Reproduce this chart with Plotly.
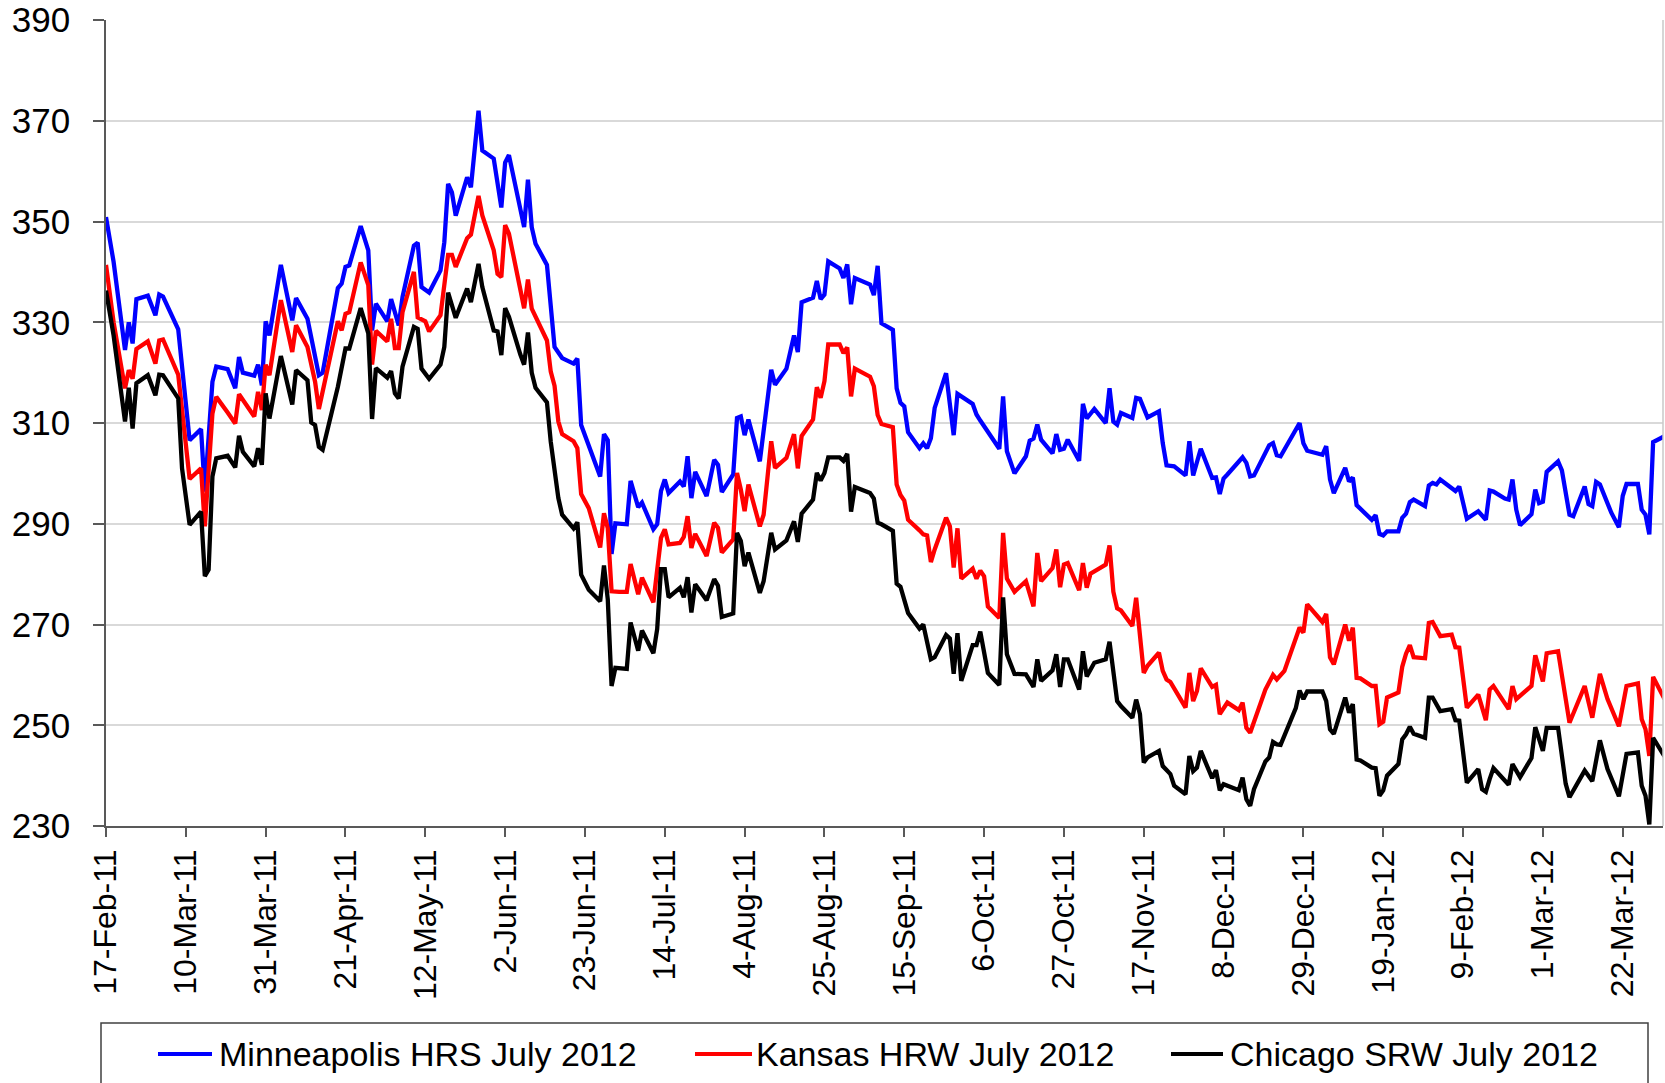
import pandas as pd
import plotly.graph_objects as go

# Wheat futures (July 2012 contracts), daily closes; x = days since 17-Feb-11
start = pd.Timestamp("2011-02-17")

mpls_days = [
    0, 2, 5, 6, 7, 8, 11, 13, 14, 15, 19, 22, 25, 26, 28, 29, 32, 34, 35, 36,
    39, 40, 41, 42, 43, 46, 49, 50, 53, 55, 56, 57, 61, 62, 63, 64, 67, 69, 70, 71,
    74, 75, 77, 78, 81, 82, 83, 85, 88, 89, 90, 91, 92, 95, 96, 98, 99, 102, 104, 105,
    106, 110, 111, 112, 113, 116, 117, 118, 120, 123, 124, 125, 130, 131, 132, 133, 134, 137, 138, 140,
    141, 144, 145, 146, 147, 148, 151, 152, 153, 154, 155, 158, 160, 161, 162, 165, 166, 167, 168, 169,
    172, 175, 176, 179, 181, 182, 183, 186, 187, 188, 189, 190, 193, 194, 195, 196, 197, 201, 202, 203,
    204, 207, 208, 209, 210, 211, 214, 215, 216, 217, 218, 221, 223, 224, 228, 229, 230, 232, 235, 236,
    237, 239, 242, 243, 244, 245, 246, 249, 250, 251, 252, 253, 256, 257, 258, 260, 263, 264, 265, 266,
    267, 270, 271, 272, 274, 277, 278, 279, 281, 284, 285, 286, 288, 291, 292, 293, 294, 295, 299, 300,
    301, 302, 306, 307, 308, 309, 314, 315, 316, 320, 321, 322, 323, 326, 327, 328, 329, 333, 334, 335,
    336, 337, 340, 341, 342, 343, 344, 347, 348, 349, 350, 351, 354, 355, 356, 358, 361, 363, 364, 365,
    368, 369, 370, 371, 372, 375, 376, 377, 378, 379, 382, 383, 385, 386, 389, 390, 391, 392, 393, 396,
    398, 399, 400, 403, 404, 405, 406, 407, 410,
]
mpls = [
    350.9, 342, 324.5, 330, 325.8, 334.6, 335.3, 331.4, 335.5, 335.1, 328.6, 306.6, 308.8, 296.4, 318.2, 321.2, 320.7, 316.9, 323.1, 320,
    319.4, 321.6, 317.5, 330.2, 327.4, 341.4, 330.4, 334.8, 330.7, 323.8, 319.5, 320, 336.8, 337.7, 341, 341.3, 349.1, 344.3, 328.4, 333.7,
    330.2, 334.6, 329.4, 335, 345.2, 345.8, 337, 335.9, 340.3, 345.9, 357.5, 355.8, 351.2, 358.8, 356.8, 372, 364.1, 362.5, 352.8, 361.7,
    363.2, 348.9, 358.3, 348.9, 345.6, 341.4, 332, 325.1, 322.9, 321.8, 322.8, 309.6, 299.4, 307.8, 306.6, 284, 290.1, 289.9, 298.5, 293.3,
    294.2, 288.9, 289.9, 296.5, 298.8, 296.1, 298.4, 297.4, 303.4, 295.1, 300.3, 295.5, 302.7, 301.7, 296.3, 299.8, 311, 311.3, 307.6, 310.7,
    302.4, 320.6, 317.6, 320.8, 327.4, 324.1, 334, 334.9, 338.2, 334.6, 335.5, 342.1, 340.7, 338.8, 341.5, 333.6, 338.8, 337.5, 335.4, 341.2,
    329.8, 328.5, 316.9, 314, 313.3, 308.2, 305, 306, 305, 307, 313, 319.9, 307.6, 315.8, 313.8, 311.7, 310.5, 308.3, 304.9, 315.3,
    304.4, 300, 303.4, 306.5, 306.9, 309.7, 306.7, 304, 307.8, 304.7, 304.9, 306.7, 302.5, 313.8, 310.9, 312.8, 310, 316.9, 310.3, 309.7,
    312, 311, 315, 314.8, 311.1, 312.3, 306, 301.6, 301.4, 299.6, 306.4, 299.6, 304.9, 299.1, 299.2, 295.9, 299, 299.8, 303.2, 302.1,
    299.4, 299.6, 305.6, 306, 303.6, 303.4, 310, 306, 304.5, 303.7, 305.4, 298.8, 296.1, 301.1, 298.4, 299.2, 293.7, 290.8, 291.7, 288,
    287.7, 288.5, 288.5, 291.2, 292, 294.3, 294.8, 293.5, 297.6, 298.1, 297.8, 298.8, 297.2, 296.5, 297.4, 291, 292.5, 290.8, 296.6, 296.4,
    295, 294.8, 298.8, 292.8, 289.7, 291.9, 296.8, 294.1, 294.4, 300.3, 302.4, 300.6, 291.8, 291.5, 297.4, 293.9, 293.5, 298.3, 297.8, 292.2,
    289.3, 295.5, 297.9, 297.9, 292.8, 291.8, 287.9, 306.2, 307.4,
]

kansas_days = [
    0, 2, 5, 6, 7, 8, 11, 13, 14, 15, 19, 22, 25, 26, 28, 29, 32, 34, 35, 39,
    40, 41, 42, 43, 46, 49, 50, 53, 55, 56, 61, 62, 63, 64, 67, 69, 70, 71, 74, 75,
    76, 77, 78, 81, 82, 84, 85, 88, 90, 91, 92, 95, 96, 98, 99, 102, 103, 104, 105, 106,
    110, 111, 112, 116, 117, 118, 119, 120, 123, 124, 125, 127, 130, 131, 132, 133, 135, 137, 138, 140,
    141, 144, 146, 147, 148, 151, 152, 153, 154, 155, 158, 160, 161, 162, 165, 166, 167, 168, 169, 172,
    173, 175, 176, 179, 181, 182, 183, 186, 187, 188, 189, 190, 193, 194, 195, 196, 197, 201, 202, 203,
    204, 207, 208, 209, 210, 211, 214, 215, 216, 217, 218, 221, 222, 223, 224, 225, 228, 229, 230, 231,
    232, 235, 236, 237, 239, 242, 244, 245, 246, 249, 250, 251, 252, 253, 256, 257, 258, 259, 263, 264,
    265, 266, 267, 270, 271, 273, 274, 277, 278, 279, 280, 284, 285, 286, 287, 288, 291, 292, 293, 295,
    298, 299, 300, 301, 305, 307, 308, 310, 314, 315, 316, 320, 321, 322, 323, 326, 327, 328, 329, 330,
    333, 334, 335, 336, 337, 340, 341, 342, 343, 344, 347, 348, 349, 351, 354, 355, 356, 358, 361, 363,
    364, 365, 369, 370, 371, 375, 376, 378, 379, 382, 385, 389, 391, 393, 395, 398, 400, 403, 404, 405,
    406, 407, 410,
]
kansas = [
    341.4, 330, 316.9, 320.5, 318.8, 324.7, 326.2, 321.8, 326.4, 326.6, 319.6, 298.9, 301, 289.5, 311.9, 315.2, 312.1, 309.9, 315.7, 311.3,
    316.2, 312.6, 321.6, 319.5, 334.4, 324.1, 329.4, 325.1, 318.2, 312.8, 330.2, 328.4, 331.7, 332, 341.9, 337.4, 321.6, 328.3, 326.2, 330.7,
    324.9, 324.9, 332, 340, 331, 330.2, 328.2, 331.4, 343.4, 343.4, 341, 346.7, 347.4, 355.1, 351.2, 344.3, 339.6, 339, 349.3, 347.6,
    332.8, 338.5, 332.7, 326.4, 320.2, 317.4, 310.3, 307.8, 306.4, 305, 295.9, 293.1, 285.3, 292.1, 289.1, 276.6, 276.5, 276.5, 282, 276,
    279.3, 274.4, 287.2, 288.9, 285.9, 286.2, 287.4, 291.5, 285.2, 288, 283.6, 290.2, 289.2, 284.3, 286.9, 300.1, 296.8, 292.5, 297.8, 289.5,
    291.8, 306.4, 301.1, 303.1, 307.8, 301, 307.4, 310.7, 317.1, 315, 318.3, 325.6, 325.6, 323.9, 325, 315.3, 320.8, 319.2, 317.3, 311.6,
    309.8, 309.2, 297.8, 295.7, 294.6, 290.8, 288.7, 287.9, 287.7, 282.4, 284.9, 291.2, 289.5, 281.3, 289.1, 279.1, 281.1, 279.1, 280.7, 279.6,
    273.6, 271.3, 288.2, 279.1, 276.5, 278.6, 273.6, 284.2, 278.6, 281.2, 284.9, 277.4, 281.9, 282.2, 276.8, 282.2, 277.3, 280.1, 281.9, 285.7,
    276.5, 273.2, 272.8, 269.7, 275.3, 260.4, 261.8, 264.4, 260.8, 259.1, 258.6, 253.5, 260.4, 254.8, 256.8, 261.3, 257.6, 258, 252.2, 254.5,
    253, 254.5, 249.5, 248.5, 257.1, 260, 259.1, 260.8, 269.4, 268.4, 274, 270.5, 272.1, 263.5, 262.1, 270, 266.8, 269.4, 259.4, 259.3,
    257.8, 257.8, 250.2, 250.7, 255.5, 256.5, 261.6, 264.2, 265.9, 263.5, 263.3, 270.3, 270.5, 267.7, 268, 265.5, 265.4, 253.5, 256.1, 251,
    257.1, 257.8, 253.2, 257.8, 255.2, 257.8, 263.9, 258.7, 264.3, 264.7, 250.5, 257.8, 251.5, 260.2, 255.2, 249.8, 257.8, 258.3, 251.2, 249.2,
    243.9, 259.6, 255.2,
]

chicago_days = [
    0, 2, 5, 6, 7, 8, 11, 13, 14, 15, 19, 20, 22, 25, 26, 27, 28, 29, 32, 34,
    35, 36, 39, 40, 41, 42, 43, 46, 49, 50, 53, 54, 55, 56, 57, 61, 63, 64, 67, 69,
    70, 71, 74, 75, 76, 77, 78, 81, 82, 83, 85, 88, 89, 90, 92, 95, 96, 98, 99, 102,
    103, 104, 105, 106, 109, 110, 111, 112, 113, 116, 117, 119, 120, 123, 124, 125, 127, 130, 131, 132,
    133, 134, 137, 138, 140, 141, 144, 145, 146, 147, 148, 151, 152, 153, 154, 155, 158, 160, 161, 162,
    165, 166, 167, 168, 169, 172, 173, 175, 176, 179, 181, 182, 183, 186, 187, 188, 189, 190, 193, 194,
    195, 196, 197, 201, 202, 203, 204, 207, 208, 209, 211, 214, 215, 216, 217, 218, 221, 222, 223, 224,
    225, 228, 229, 230, 232, 235, 236, 237, 239, 242, 244, 245, 246, 249, 250, 251, 252, 253, 256, 257,
    258, 260, 263, 264, 265, 266, 267, 270, 271, 272, 273, 274, 277, 278, 279, 280, 281, 284, 285, 286,
    287, 288, 291, 292, 293, 294, 298, 299, 300, 301, 302, 305, 306, 307, 308, 309, 313, 314, 315, 316,
    320, 321, 322, 323, 326, 327, 328, 329, 330, 333, 334, 335, 336, 337, 340, 341, 342, 343, 344, 347,
    348, 349, 351, 354, 355, 356, 358, 361, 362, 363, 364, 365, 369, 370, 372, 375, 376, 378, 379, 382,
    384, 385, 389, 391, 393, 395, 398, 400, 403, 404, 405, 406, 407, 410,
]
chicago = [
    336.3, 327.4, 310.3, 317, 308.9, 317.9, 319.5, 315.5, 319.6, 319.5, 314.9, 301, 289.8, 292.4, 279.6, 280.9, 299.4, 303, 303.5, 301.2,
    307.5, 304.3, 301.4, 305, 301.7, 315.9, 310.9, 323.3, 313.7, 320.5, 318.5, 310.1, 309.6, 305.3, 304.7, 317.2, 324.8, 324.8, 332.8, 327.8,
    310.8, 320.9, 319, 320.3, 315.9, 314.9, 321.2, 329.1, 328.7, 320.8, 318.8, 321.6, 325.1, 335.9, 330.9, 336.7, 334, 341.6, 337, 328.4,
    328.2, 323.5, 332.8, 331.1, 323.6, 321.6, 328, 320, 317, 314.1, 306.3, 295.1, 291.8, 289.1, 290.3, 279.9, 276.9, 274.6, 281.7, 275,
    257.8, 261.4, 261.2, 270.4, 264.8, 268.8, 264.3, 269.1, 281, 281, 275.4, 277.3, 275.4, 279.4, 272.4, 278, 274.8, 279, 277.7, 271.5,
    272.2, 288.2, 286.6, 281.6, 284.3, 276.3, 278.6, 288.2, 284.9, 286.7, 290.5, 286.4, 292, 294.8, 300.1, 298.6, 300.1, 303.2, 303.2, 302.5,
    303.9, 292.4, 297.3, 296.1, 295, 290.2, 289.9, 288.6, 278.1, 277.5, 272.3, 269.2, 270, 266.7, 263.1, 263.5, 267.9, 267.2, 260.2, 268.3,
    258.8, 265.9, 265.9, 268.6, 260.4, 258, 275.4, 264.1, 260.2, 260.1, 257.6, 263.1, 258.8, 260.9, 264.1, 257.6, 263.1, 263.1, 257.1, 264.7,
    259.7, 262.4, 263.1, 266.6, 260.1, 254.8, 253.8, 251.5, 255.1, 252.2, 242.6, 243.6, 244.9, 241.9, 241.1, 240.3, 238, 236.3, 243.9, 240.9,
    241.6, 244.9, 239.5, 241.1, 237.1, 238.3, 237.1, 239.6, 235.3, 234, 237.3, 242.8, 243.6, 246.7, 246.2, 246.1, 253.4, 256.9, 255.2, 256.7,
    256.7, 254.8, 249.2, 248.3, 255.5, 252.5, 254.2, 243.2, 243, 241.6, 241.5, 236, 237.1, 240, 242.3, 247.2, 248.2, 249.7, 248.3, 247.5,
    255.5, 255.5, 252.8, 253.2, 251, 250.9, 238.6, 241.3, 237.3, 236.8, 239.3, 241.5, 238.2, 242.3, 239.7, 243.5, 249.6, 244.9, 249.5, 249.5,
    238.4, 235.7, 241, 238.9, 247, 241.3, 235.9, 244.3, 244.6, 238, 236, 230.3, 247.5, 243.8,
]

series = [
    ("Minneapolis HRS July 2012", mpls_days, mpls, "#0000ff"),
    ("Kansas HRW July 2012", kansas_days, kansas, "#ff0000"),
    ("Chicago SRW July 2012", chicago_days, chicago, "#000000"),
]

FONT = "Arial, Liberation Sans, sans-serif"
W, H = 1665, 1083
L, R, T, B = 106, 1663, 20, 826   # plot area in pixels
AXIS = "#595959"


def px(x):
    return (x - L) / (R - L)


def py(y):
    return (B - y) / (B - T)


fig = go.Figure()
for name, days, vals, col in series:
    assert len(days) == len(vals), name
    dates = start + pd.to_timedelta(days, unit="D")
    fig.add_trace(go.Scatter(x=dates, y=vals, mode="lines", name=name,
                             line=dict(color=col, width=4.3), showlegend=False))

x_end = start + pd.Timedelta(days=409.6)

fig.update_xaxes(
    type="date", range=[start, x_end],
    tick0=start, dtick=21 * 86400000, tickformat="%-d-%b-%y", tickangle=-90,
    ticks="outside", ticklen=9, tickwidth=1.5, tickcolor=AXIS,
    showline=True, linecolor=AXIS, linewidth=1.5,
    showgrid=False, zeroline=False,
    tickfont=dict(family=FONT, size=32, color="black"),
    automargin=False,
)
fig.update_yaxes(
    range=[230, 390.02], dtick=20, tick0=230,
    ticks="outside", ticklen=11, tickwidth=1.5, tickcolor=AXIS,
    showline=True, linecolor=AXIS, linewidth=1.5,
    showgrid=True, gridcolor="#d9d9d9", gridwidth=1.5, zeroline=False,
    tickfont=dict(family=FONT, size=35, color="black"),
    ticklabelstandoff=16, ticklabeloverflow="allow",
    automargin=False,
)

shapes = [
    # right border of plot area
    dict(type="line", xref="paper", yref="paper", x0=1, x1=1, y0=0, y1=1,
         line=dict(color="#c8c8c8", width=1.5)),
    # legend box (runs off the bottom of the picture)
    dict(type="rect", xref="paper", yref="paper",
         x0=px(101), x1=px(1648), y0=py(1023), y1=py(1110),
         line=dict(color="#404040", width=1.5), fillcolor="rgba(0,0,0,0)"),
]
annotations = []
legend_pos = [(158, 212, 217), (695, 752, 754), (1171, 1223, 1228)]
ly = 1054
for (name, _, _, col), (s0, s1, tx) in zip(series, legend_pos):
    shapes.append(dict(type="line", xref="paper", yref="paper",
                       x0=px(s0), x1=px(s1), y0=py(ly), y1=py(ly),
                       line=dict(color=col, width=4)))
    annotations.append(dict(xref="paper", yref="paper", x=px(tx), y=py(ly),
                            text=name, showarrow=False, xanchor="left", yanchor="middle",
                            font=dict(family=FONT, size=34, color="black")))

fig.update_layout(
    width=W, height=H, autosize=False,
    margin=dict(l=L, r=W - R, t=T, b=H - B, pad=0),
    paper_bgcolor="white", plot_bgcolor="white",
    shapes=shapes, annotations=annotations,
    showlegend=False,
)

# the page's default body margin would shift the figure off the window
fig.write_html("out.html", config={"displayModeBar": False},
               post_script="document.body.style.margin='0px';")
